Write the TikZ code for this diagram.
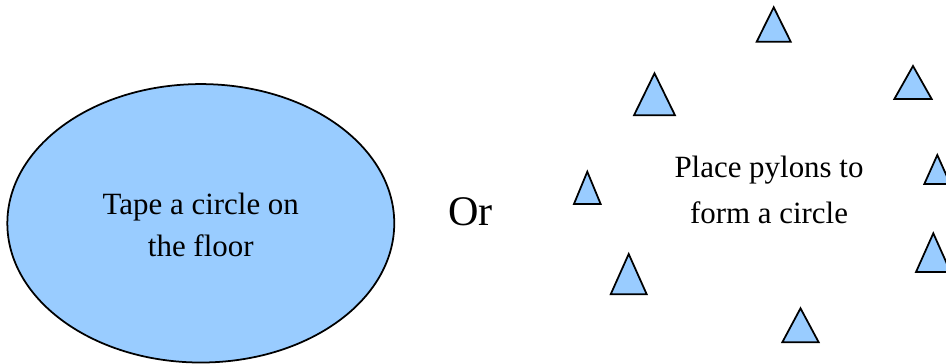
\documentclass[tikz,border=0pt]{standalone}
\usepackage{fontspec}
\setmainfont{Liberation Serif}
\usepackage{xcolor}
\usetikzlibrary{shapes.geometric}
\definecolor{pylonblue}{HTML}{99CCFF}

\tikzset{
    pylon/.style={draw=black, fill=pylonblue, line width=1pt},
    caption/.style={align=center, font=\fontsize{17.6}{21}\selectfont}
}

\begin{document}
\begin{tikzpicture}[x=0.02cm, y=-0.02cm]
    \useasboundingbox (0,0) rectangle (946,364);

    % taped circle on the left
    \node[pylon, ellipse, minimum width=7.74cm, minimum height=5.57cm, inner sep=0pt]
        (tape) at (200.8,223.3) {};
    \node[caption] (tapetext) at (200.8,225) {Tape a circle on\\[2.6pt]the floor};

    \node[anchor=base, font=\fontsize{24}{28}\selectfont] (or) at (470.5,226) {Or};

    % pylons - base centre x / base y / width / height
    \foreach \x/\y/\w/\h in {773.7/41.7/34/34.4, 654.5/115.3/41/42,
        913/99/37.3/33, 937.3/184/26/29, 933.3/272/34.6/38.7,
        587.3/204/26.7/32.3, 628.7/294.3/36/40.3, 800.5/342.3/36.4/34} {
        \draw[pylon] ({\x-\w/2},\y) -- (\x,{\y-\h}) -- ({\x+\w/2},\y) -- cycle;
    }

    \node[caption] (pylontext) at (769,190)
        {Place pylons to\\[5pt]form a circle};
\end{tikzpicture}
\end{document}
